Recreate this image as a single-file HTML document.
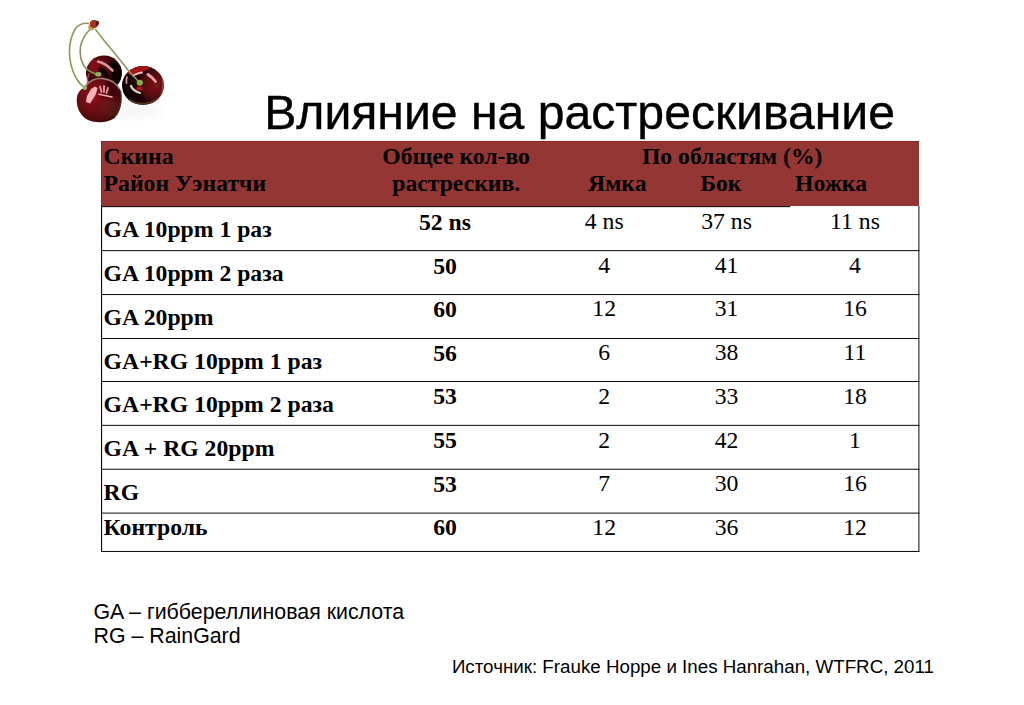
<!DOCTYPE html>
<html><head><meta charset="utf-8"><title>slide</title>
<style>
html,body{margin:0;padding:0;background:#fff;}
body{width:1024px;height:705px;position:relative;overflow:hidden;font-family:"Liberation Serif",serif;color:#000;}
.t{position:absolute;white-space:pre;line-height:1;}
.c{text-align:center;}
.b{font-weight:bold;}
.s{font-family:"Liberation Sans",sans-serif;}
.ttl{-webkit-text-stroke:0.4px #000;}
.hl{position:absolute;height:1px;background:#111;left:101px;width:819px;}
.vl{position:absolute;width:1px;background:#111;}
#hdr{position:absolute;left:101px;top:141px;width:818px;height:65px;background:#943634;box-sizing:border-box;border-top:1px solid #8c2623;border-left:1px solid #8c2623;}
</style></head><body>
<svg style="position:absolute;left:0;top:0" width="200" height="140" viewBox="0 0 200 140">
<defs>
<filter id="bl" x="-10%" y="-10%" width="120%" height="120%"><feGaussianBlur stdDeviation="0.7"/></filter>
<filter id="bl2" x="-20%" y="-20%" width="140%" height="140%"><feGaussianBlur stdDeviation="1.6"/></filter>
<filter id="bl3" x="-30%" y="-30%" width="160%" height="160%"><feGaussianBlur stdDeviation="3"/></filter>
<radialGradient id="gA" cx="0.36" cy="0.3" r="0.8">
<stop offset="0" stop-color="#7c0e17"/><stop offset="0.35" stop-color="#4e070d"/><stop offset="0.7" stop-color="#220407"/><stop offset="1" stop-color="#120204"/>
</radialGradient>
<radialGradient id="gB" cx="0.82" cy="0.5" r="0.82">
<stop offset="0" stop-color="#7a141a"/><stop offset="0.32" stop-color="#5e0b11"/><stop offset="0.58" stop-color="#250408"/><stop offset="1" stop-color="#0e0204"/>
</radialGradient>
<radialGradient id="gC" cx="0.4" cy="0.42" r="0.72">
<stop offset="0" stop-color="#93101a"/><stop offset="0.4" stop-color="#700b14"/><stop offset="0.75" stop-color="#4e080d"/><stop offset="1" stop-color="#2a0507"/>
</radialGradient>
<clipPath id="cpA"><ellipse cx="104" cy="73" rx="18" ry="17.5"/></clipPath>
<clipPath id="cpB"><ellipse cx="143" cy="85.5" rx="21" ry="19.5"/></clipPath>
<clipPath id="cpC"><path d="M84.5,87.5 C87,80 96,76.5 103,77.5 C112,78.5 119,84 121,93 C122.5,102 120.5,112 114.5,118 C108,123 96,123.5 88,120 C80,116 75.5,106 77,97 C78,92 81,89 84.5,87.5 Z"/></clipPath>
</defs>
<!-- faint off-white photo background -->
<ellipse cx="132" cy="111" rx="30" ry="7" fill="#f1eeee" filter="url(#bl3)" opacity="0.55"/>
<g filter="url(#bl)">
<!-- cherry B (right) -->
<ellipse cx="143" cy="85.5" rx="21" ry="19.5" fill="url(#gB)"/>
<g clip-path="url(#cpB)">
<path d="M161,70 Q167,85 160,101" fill="none" stroke="#a25a4a" stroke-width="3" opacity="0.7" filter="url(#bl)"/>
<path d="M127,72 Q137,63.5 152,67 Q144,72.5 130,75 Z" fill="#a31219"/>
<ellipse cx="132" cy="95" rx="9" ry="9" fill="#0a0103" opacity="0.7" filter="url(#bl2)"/>
</g>
<path d="M129,99.5 Q143,108.5 158,98.5" fill="none" stroke="#76502f" stroke-width="2" opacity="0.6"/>
<path d="M133,75.5 Q138,73 142,72.5" fill="none" stroke="#f3b9bd" stroke-width="1.8" stroke-linecap="round"/>
<path d="M148,74.5 Q152,77 155.5,81.5" fill="none" stroke="#e9a3aa" stroke-width="2.8" stroke-linecap="round"/>
<path d="M127,77 Q126,80 126.5,83" fill="none" stroke="#d08e96" stroke-width="1.8" stroke-linecap="round"/>
<path d="M131,86 Q133,91 140,93" fill="none" stroke="#e4cccc" stroke-width="2.2" stroke-linecap="round"/>
<ellipse cx="139.5" cy="88.5" rx="3.2" ry="2" fill="#b0141c"/>
<!-- stem 3 -->
<path d="M95.5,29.5 Q100,35 104,40.5 Q118,57 128,70 Q134,77 139,82" fill="none" stroke="#8b9a58" stroke-width="1.6" stroke-linecap="round"/>
<ellipse cx="139.8" cy="82.8" rx="3.1" ry="3.0" fill="#8bab45"/>
<!-- cherry A (back) -->
<ellipse cx="104" cy="73" rx="18" ry="17.5" fill="url(#gA)"/>
<g clip-path="url(#cpA)">
<path d="M115,60 Q125,75 118,90 L109,86 Q114,74 108,64 Z" fill="#0c0103" filter="url(#bl)"/>
<path d="M99,68 Q107,72 109,84" fill="none" stroke="#100204" stroke-width="5" opacity="0.85" filter="url(#bl)"/>
<ellipse cx="94" cy="66" rx="5" ry="7" fill="#8a0f18" opacity="0.8" filter="url(#bl)"/>
</g>
<path d="M98,61.5 Q106,63.5 112.5,70.5" fill="none" stroke="#e0959d" stroke-width="2.6" stroke-linecap="round"/>
<path d="M89,74 Q87,78 87.5,82" fill="none" stroke="#b85560" stroke-width="1.6" stroke-linecap="round" opacity="0.8"/>
<!-- stem 2 -->
<path d="M89.8,29.5 Q82.5,37 80.4,47 Q79.2,58 84,66 Q88,71.5 96,74" fill="none" stroke="#86955a" stroke-width="1.6" stroke-linecap="round"/>
<ellipse cx="98.2" cy="74.2" rx="3.1" ry="2.3" fill="#93ad5c"/>
<!-- cherry C (front) -->
<path d="M84.5,87.5 C87,80 96,76.5 103,77.5 C112,78.5 119,84 121,93 C122.5,102 120.5,112 114.5,118 C108,123 96,123.5 88,120 C80,116 75.5,106 77,97 C78,92 81,89 84.5,87.5 Z" fill="url(#gC)"/>
<g clip-path="url(#cpC)">
<ellipse cx="111" cy="109" rx="13" ry="10" fill="#5e2c1e" opacity="0.4" filter="url(#bl3)"/>
<path d="M99,97 Q110,99 120,94 L121,86 L108,80 Z" fill="#2a0407" opacity="0.55" filter="url(#bl2)"/>
</g>
<path d="M85.8,86 C89,80.5 96,77.8 103,78.6 C111,79.5 116.5,83.5 119.5,89" fill="none" stroke="#a38876" stroke-width="1.6" opacity="0.9"/>
<path d="M87,96 L91,89 L95,86.5 L97.5,88 L96,94 L93,99 L90,103.5 L86,102 Z" fill="#f2b4b8"/>
<path d="M100,86.5 L101.5,92 M104,86 L104,92 M108,88 L106.5,93" fill="none" stroke="#e58c96" stroke-width="2" stroke-linecap="round"/>
<path d="M99,94.3 L112,97" fill="none" stroke="#f0b0b5" stroke-width="1.6" stroke-linecap="round"/>
<path d="M120.5,90 Q123,102 116.5,115" fill="none" stroke="#4a3a22" stroke-width="1.6" opacity="0.7"/>
<!-- stem 1 -->
<path d="M88.5,23.4 Q80.5,22.5 75.5,28.5 Q69.5,38 69.4,52 Q69.6,66 76,78 Q79.5,84 84,87" fill="none" stroke="#8b9a58" stroke-width="1.6" stroke-linecap="round"/>
<ellipse cx="84.8" cy="87.8" rx="2.3" ry="2.2" fill="#9ab070"/>
<!-- knot -->
<ellipse cx="91.3" cy="27.2" rx="3" ry="3.2" fill="#c6a54e"/>
<ellipse cx="94" cy="24" rx="4.2" ry="3.9" fill="#a5321e"/>
<ellipse cx="97.4" cy="23" rx="1.6" ry="2.3" fill="#4e1816"/>
</g>
</svg>


<div class="t s ttl" style="left:264.20px;top:88.44px;font-size:48.15px">Влияние на растрескивание</div>
<div id="hdr"></div>
<svg style="position:absolute;left:0;top:0" width="1024" height="705" viewBox="0 0 1024 705"><rect x="101" y="206.05" width="689.3" height="1.1" fill="#140404"/><rect x="101" y="250.15" width="818.4" height="1" fill="#0a0a0a"/><rect x="101" y="294.05" width="818.4" height="1" fill="#0a0a0a"/><rect x="101" y="338.0" width="818.4" height="1" fill="#0a0a0a"/><rect x="101" y="381.0" width="818.4" height="1" fill="#0a0a0a"/><rect x="101" y="424.85" width="818.4" height="1" fill="#0a0a0a"/><rect x="101" y="468.75" width="818.4" height="1" fill="#0a0a0a"/><rect x="101" y="512.6" width="818.4" height="1" fill="#0a0a0a"/><rect x="101" y="550.95" width="818.4" height="1" fill="#0a0a0a"/><rect x="101" y="206" width="1.1" height="345.95" fill="#0a0a0a"/><rect x="918.4" y="206" width="1" height="345.95" fill="#0a0a0a"/></svg>
<div class="t b" style="left:103.60px;top:144.75px;font-size:23.7px">Скина</div>
<div class="t b" style="left:103.60px;top:171.55px;font-size:23.7px">Район Уэнатчи</div>
<div class="t c b" style="left:306.10px;width:300px;top:144.75px;font-size:23.7px">Общее кол-во</div>
<div class="t c b" style="left:306.20px;width:300px;top:171.55px;font-size:23.7px">растрескив.</div>
<div class="t c b" style="left:582.20px;width:300px;top:144.75px;font-size:23.7px">По областям (%)</div>
<div class="t c b" style="left:467.30px;width:300px;top:171.55px;font-size:23.7px">Ямка</div>
<div class="t c b" style="left:570.80px;width:300px;top:171.55px;font-size:23.7px">Бок</div>
<div class="t c b" style="left:681.00px;width:300px;top:171.55px;font-size:23.7px">Ножка</div>
<div class="t b" style="left:103.60px;top:217.85px;font-size:23.7px">GA 10ppm 1 раз</div>
<div class="t c b" style="left:295.00px;width:300px;top:210.65px;font-size:23.7px">52 ns</div>
<div class="t c " style="left:454.20px;width:300px;top:209.65px;font-size:23.7px">4 ns</div>
<div class="t c " style="left:576.60px;width:300px;top:209.65px;font-size:23.7px">37 ns</div>
<div class="t c " style="left:705.00px;width:300px;top:209.65px;font-size:23.7px">11 ns</div>
<div class="t b" style="left:103.60px;top:261.85px;font-size:23.7px">GA 10ppm 2 раза</div>
<div class="t c b" style="left:295.00px;width:300px;top:254.65px;font-size:23.7px">50</div>
<div class="t c " style="left:454.20px;width:300px;top:253.65px;font-size:23.7px">4</div>
<div class="t c " style="left:576.60px;width:300px;top:253.65px;font-size:23.7px">41</div>
<div class="t c " style="left:705.00px;width:300px;top:253.65px;font-size:23.7px">4</div>
<div class="t b" style="left:103.60px;top:305.85px;font-size:23.7px">GA 20ppm</div>
<div class="t c b" style="left:295.00px;width:300px;top:297.65px;font-size:23.7px">60</div>
<div class="t c " style="left:454.20px;width:300px;top:296.65px;font-size:23.7px">12</div>
<div class="t c " style="left:576.60px;width:300px;top:296.65px;font-size:23.7px">31</div>
<div class="t c " style="left:705.00px;width:300px;top:296.65px;font-size:23.7px">16</div>
<div class="t b" style="left:103.60px;top:349.85px;font-size:23.7px">GA+RG 10ppm 1 раз</div>
<div class="t c b" style="left:295.00px;width:300px;top:341.65px;font-size:23.7px">56</div>
<div class="t c " style="left:454.20px;width:300px;top:340.65px;font-size:23.7px">6</div>
<div class="t c " style="left:576.60px;width:300px;top:340.65px;font-size:23.7px">38</div>
<div class="t c " style="left:705.00px;width:300px;top:340.65px;font-size:23.7px">11</div>
<div class="t b" style="left:103.60px;top:392.85px;font-size:23.7px">GA+RG 10ppm 2 раза</div>
<div class="t c b" style="left:295.00px;width:300px;top:384.65px;font-size:23.7px">53</div>
<div class="t c " style="left:454.20px;width:300px;top:384.65px;font-size:23.7px">2</div>
<div class="t c " style="left:576.60px;width:300px;top:384.65px;font-size:23.7px">33</div>
<div class="t c " style="left:705.00px;width:300px;top:384.65px;font-size:23.7px">18</div>
<div class="t b" style="left:103.60px;top:436.85px;font-size:23.7px">GA + RG 20ppm</div>
<div class="t c b" style="left:295.00px;width:300px;top:428.65px;font-size:23.7px">55</div>
<div class="t c " style="left:454.20px;width:300px;top:428.65px;font-size:23.7px">2</div>
<div class="t c " style="left:576.60px;width:300px;top:428.65px;font-size:23.7px">42</div>
<div class="t c " style="left:705.00px;width:300px;top:428.65px;font-size:23.7px">1</div>
<div class="t b" style="left:103.60px;top:480.85px;font-size:23.7px">RG</div>
<div class="t c b" style="left:295.00px;width:300px;top:472.65px;font-size:23.7px">53</div>
<div class="t c " style="left:454.20px;width:300px;top:471.65px;font-size:23.7px">7</div>
<div class="t c " style="left:576.60px;width:300px;top:471.65px;font-size:23.7px">30</div>
<div class="t c " style="left:705.00px;width:300px;top:471.65px;font-size:23.7px">16</div>
<div class="t b" style="left:103.60px;top:516.45px;font-size:23.7px">Контроль</div>
<div class="t c b" style="left:295.00px;width:300px;top:515.65px;font-size:23.7px">60</div>
<div class="t c " style="left:454.20px;width:300px;top:515.65px;font-size:23.7px">12</div>
<div class="t c " style="left:576.60px;width:300px;top:515.65px;font-size:23.7px">36</div>
<div class="t c " style="left:705.00px;width:300px;top:515.65px;font-size:23.7px">12</div>
<div class="t s" style="left:93.50px;top:601.93px;font-size:21.35px">GA – гиббереллиновая кислота</div>
<div class="t s" style="left:93.50px;top:625.83px;font-size:21.35px">RG – RainGard</div>
<div class="t s" style="left:451.90px;top:658.02px;font-size:18.76px">Источник: Frauke Hoppe и Ines Hanrahan, WTFRC, 2011</div>
</body></html>
